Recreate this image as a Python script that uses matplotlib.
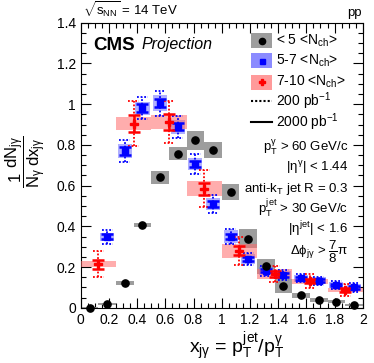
import matplotlib
matplotlib.use("Agg")
import matplotlib.pyplot as plt
from matplotlib.patches import Rectangle
from matplotlib.lines import Line2D
from matplotlib.ticker import MultipleLocator
import numpy as np

plt.rcParams['font.family'] = ['Liberation Sans', 'DejaVu Sans']
plt.rcParams['mathtext.fontset'] = 'custom'
plt.rcParams['mathtext.rm'] = 'Liberation Sans'
plt.rcParams['mathtext.it'] = 'Liberation Sans'
plt.rcParams['mathtext.bf'] = 'Liberation Sans:bold'

# ---- data ----
bins_fine = [0.0625, 0.1875, 0.3125, 0.4375, 0.5625, 0.6875, 0.8125, 0.9375,
             1.0625, 1.1875, 1.3125, 1.4375, 1.5625, 1.6875, 1.8125, 1.9375]
black_y = [0.0, 0.018, 0.12, 0.408, 0.64, 0.757, 0.822, 0.775,
           0.568, 0.34, 0.205, 0.108, 0.062, 0.038, 0.03, 0.013]
black_syst = [0.003, 0.004, 0.01, 0.01, 0.032, 0.032, 0.045, 0.04,
              0.04, 0.045, 0.037, 0.034, 0.012, 0.008, 0.006, 0.004]

blue_x = bins_fine[1:]
blue_y = [0.349, 0.771, 0.98, 1.004, 0.889, 0.706, 0.509, 0.35,
          0.238, 0.182, 0.161, 0.145, 0.133, 0.113, 0.10]
blue_syst = [0.02, 0.033, 0.033, 0.04, 0.035, 0.03, 0.03, 0.03,
             0.025, 0.02, 0.02, 0.018, 0.016, 0.015, 0.015]
blue_stat200 = [0.035, 0.053, 0.055, 0.06, 0.055, 0.05, 0.045, 0.035,
                0.03, 0.025, 0.025, 0.02, 0.02, 0.02, 0.02]
blue_stat2000 = [0.012, 0.019, 0.02, 0.02, 0.018, 0.016, 0.014, 0.012,
                 0.01, 0.008, 0.008, 0.007, 0.007, 0.006, 0.006]

red_x = [0.125, 0.375, 0.625, 0.875, 1.125, 1.375, 1.625, 1.875]
red_y = [0.215, 0.905, 0.912, 0.585, 0.28, 0.166, 0.13, 0.087]
red_syst = [0.013, 0.034, 0.035, 0.037, 0.033, 0.025, 0.012, 0.01]
red_stat200 = [0.064, 0.11, 0.105, 0.09, 0.07, 0.04, 0.035, 0.03]
red_stat2000 = [0.022, 0.04, 0.04, 0.03, 0.022, 0.013, 0.01, 0.009]

fig = plt.figure(figsize=(3.74, 3.63), dpi=100)
ax = fig.add_axes([0.216, 0.152, 0.754, 0.7855])
ax.set_xlim(0, 2)
ax.set_ylim(0, 1.4)

# black boxes
for x, y, s in zip(bins_fine, black_y, black_syst):
    ax.add_patch(Rectangle((x - 0.0625, y - s), 0.125, 2 * s,
                           facecolor='#8c8c8c', alpha=0.85, edgecolor='none', zorder=2))
# blue boxes
for x, y, s in zip(blue_x, blue_y, blue_syst):
    ax.add_patch(Rectangle((x - 0.05, y - s), 0.1, 2 * s,
                           facecolor='#6060ff', alpha=0.5, edgecolor='none', zorder=3))
# red boxes
for x, y, s in zip(red_x, red_y, red_syst):
    ax.add_patch(Rectangle((x - 0.125, y - s), 0.25, 2 * s,
                           facecolor='#ff6a6a', alpha=0.55, edgecolor='none', zorder=3))

# black points
ax.plot(bins_fine, black_y, 'o', color='black', ms=5.2, zorder=6, clip_on=False)


def dotted_err(xs, ys, errs, color, hw):
    xs = np.asarray(xs)
    ys = np.asarray(ys)
    errs = np.asarray(errs)
    ax.vlines(xs, ys - errs, ys + errs, colors=color, linestyles=(0, (1, 1)),
              linewidth=1.3, zorder=4)
    for sgn in (-1, 1):
        ax.hlines(ys + sgn * errs, xs - hw, xs + hw, colors=color,
                  linestyles=(0, (1, 1)), linewidth=1.3, zorder=4)


dotted_err(blue_x, blue_y, blue_stat200, 'blue', 0.038)
ax.errorbar(blue_x, blue_y, yerr=blue_stat2000, fmt='s', color='blue', ms=4.2,
            elinewidth=1.8, capsize=4, capthick=1.8, zorder=5)

dotted_err(red_x, red_y, red_stat200, 'red', 0.038)
ax.errorbar(red_x, red_y, yerr=red_stat2000, fmt='P', color='red', ms=6,
            elinewidth=1.8, capsize=4, capthick=1.8, zorder=5)

# ticks
ax.xaxis.set_minor_locator(MultipleLocator(0.05))
ax.yaxis.set_minor_locator(MultipleLocator(0.05))
ax.tick_params(which='both', direction='in', top=True, right=True, labelsize=10)
ax.tick_params(which='major', length=7, width=0.8)
ax.tick_params(which='minor', length=3.5, width=0.8)
ax.set_xticks(np.arange(0, 2.01, 0.2))
ax.set_xticklabels(['0', '0.2', '0.4', '0.6', '0.8', '1', '1.2', '1.4', '1.6', '1.8', '2'])
ax.set_yticks(np.arange(0, 1.41, 0.2))
ax.set_yticklabels(['0', '0.2', '0.4', '0.6', '0.8', '1', '1.2', '1.4'])

# axis labels
fig.text(0.632, 0.044, r'$x_{j\gamma}$ = $p_{T}^{jet}/p_{T}^{\gamma}$', ha='center',
         va='center', fontsize=14)
fig.text(0.07, 0.555, r'$\dfrac{1}{N_{\gamma}}\dfrac{dN_{j\gamma}}{dx_{j\gamma}}$', ha='center',
         va='center', fontsize=12, rotation=90)

# header texts
fig.text(0.222, 0.972, r'$\sqrt{s_{NN}}$ = 14 TeV', ha='left', va='center', fontsize=9.5)
fig.text(0.968, 0.965, 'pp', ha='right', va='center', fontsize=9.5)


def px(x, y):
    return x / 374.0, 1 - y / 363.0


fig.text(*px(93, 45), 'CMS', fontsize=13.5, fontweight='bold', ha='left', va='center')
fig.text(*px(142, 45), 'Projection', fontsize=11.5, fontstyle='italic', ha='left', va='center')

# legend (custom)
leg_y = [40.7, 60.7, 82, 100.7, 122]
box_styles = [('#8c8c8c', 'black', 'o', 4.5), ('#7777ff', 'blue', 's', 3.6),
              ('#ff8888', 'red', 'P', 5)]
leg_labels = [r'< 5 <N$_{ch}$>', r'5-7 <N$_{ch}$>', r'7-10 <N$_{ch}$>']
for (fc, mc, mk, ms), yy, lab in zip(box_styles, leg_y[:3], leg_labels):
    x0, y0 = px(251, yy + 7.5)
    w = 21 / 374.0
    h = 15 / 363.0
    fig.patches.append(Rectangle((x0, y0), w, h, transform=fig.transFigure,
                                 facecolor=fc, edgecolor='none', alpha=0.85))
    cx, cy = px(261.5, yy)
    fig.lines.append(Line2D([cx], [cy], marker=mk, color=mc, ms=ms,
                            transform=fig.transFigure))
    fig.text(*px(276, yy), lab, fontsize=10, ha='left', va='center')
for yy, ls, lab in zip(leg_y[3:], [(0, (1, 1)), '-'], [r'200 pb$^{-1}$', r'2000 pb$^{-1}$']):
    xa, ya = px(251, yy)
    xb, _ = px(272, yy)
    fig.lines.append(Line2D([xa, xb], [ya, ya], color='black', ls=ls, lw=1.5,
                            transform=fig.transFigure))
    fig.text(*px(276, yy), lab, fontsize=10, ha='left', va='center')

# cut texts
cuts = [(147, r'$p_{T}^{\gamma}$ > 60 GeV/c'),
        (168, r'|$\eta^{\gamma}$| < 1.44'),
        (189, r'anti-k$_{T}$ jet R = 0.3'),
        (208, r'$p_{T}^{jet}$ > 30 GeV/c'),
        (229, r'|$\eta^{jet}$| < 1.6'),
        (252, r'$\Delta\phi_{j\gamma}$ > $\dfrac{7}{8}\pi$')]
for yy, t in cuts:
    fig.text(*px(348, yy), t, fontsize=9.5, ha='right', va='center')

fig.savefig('out.png', dpi=100)
